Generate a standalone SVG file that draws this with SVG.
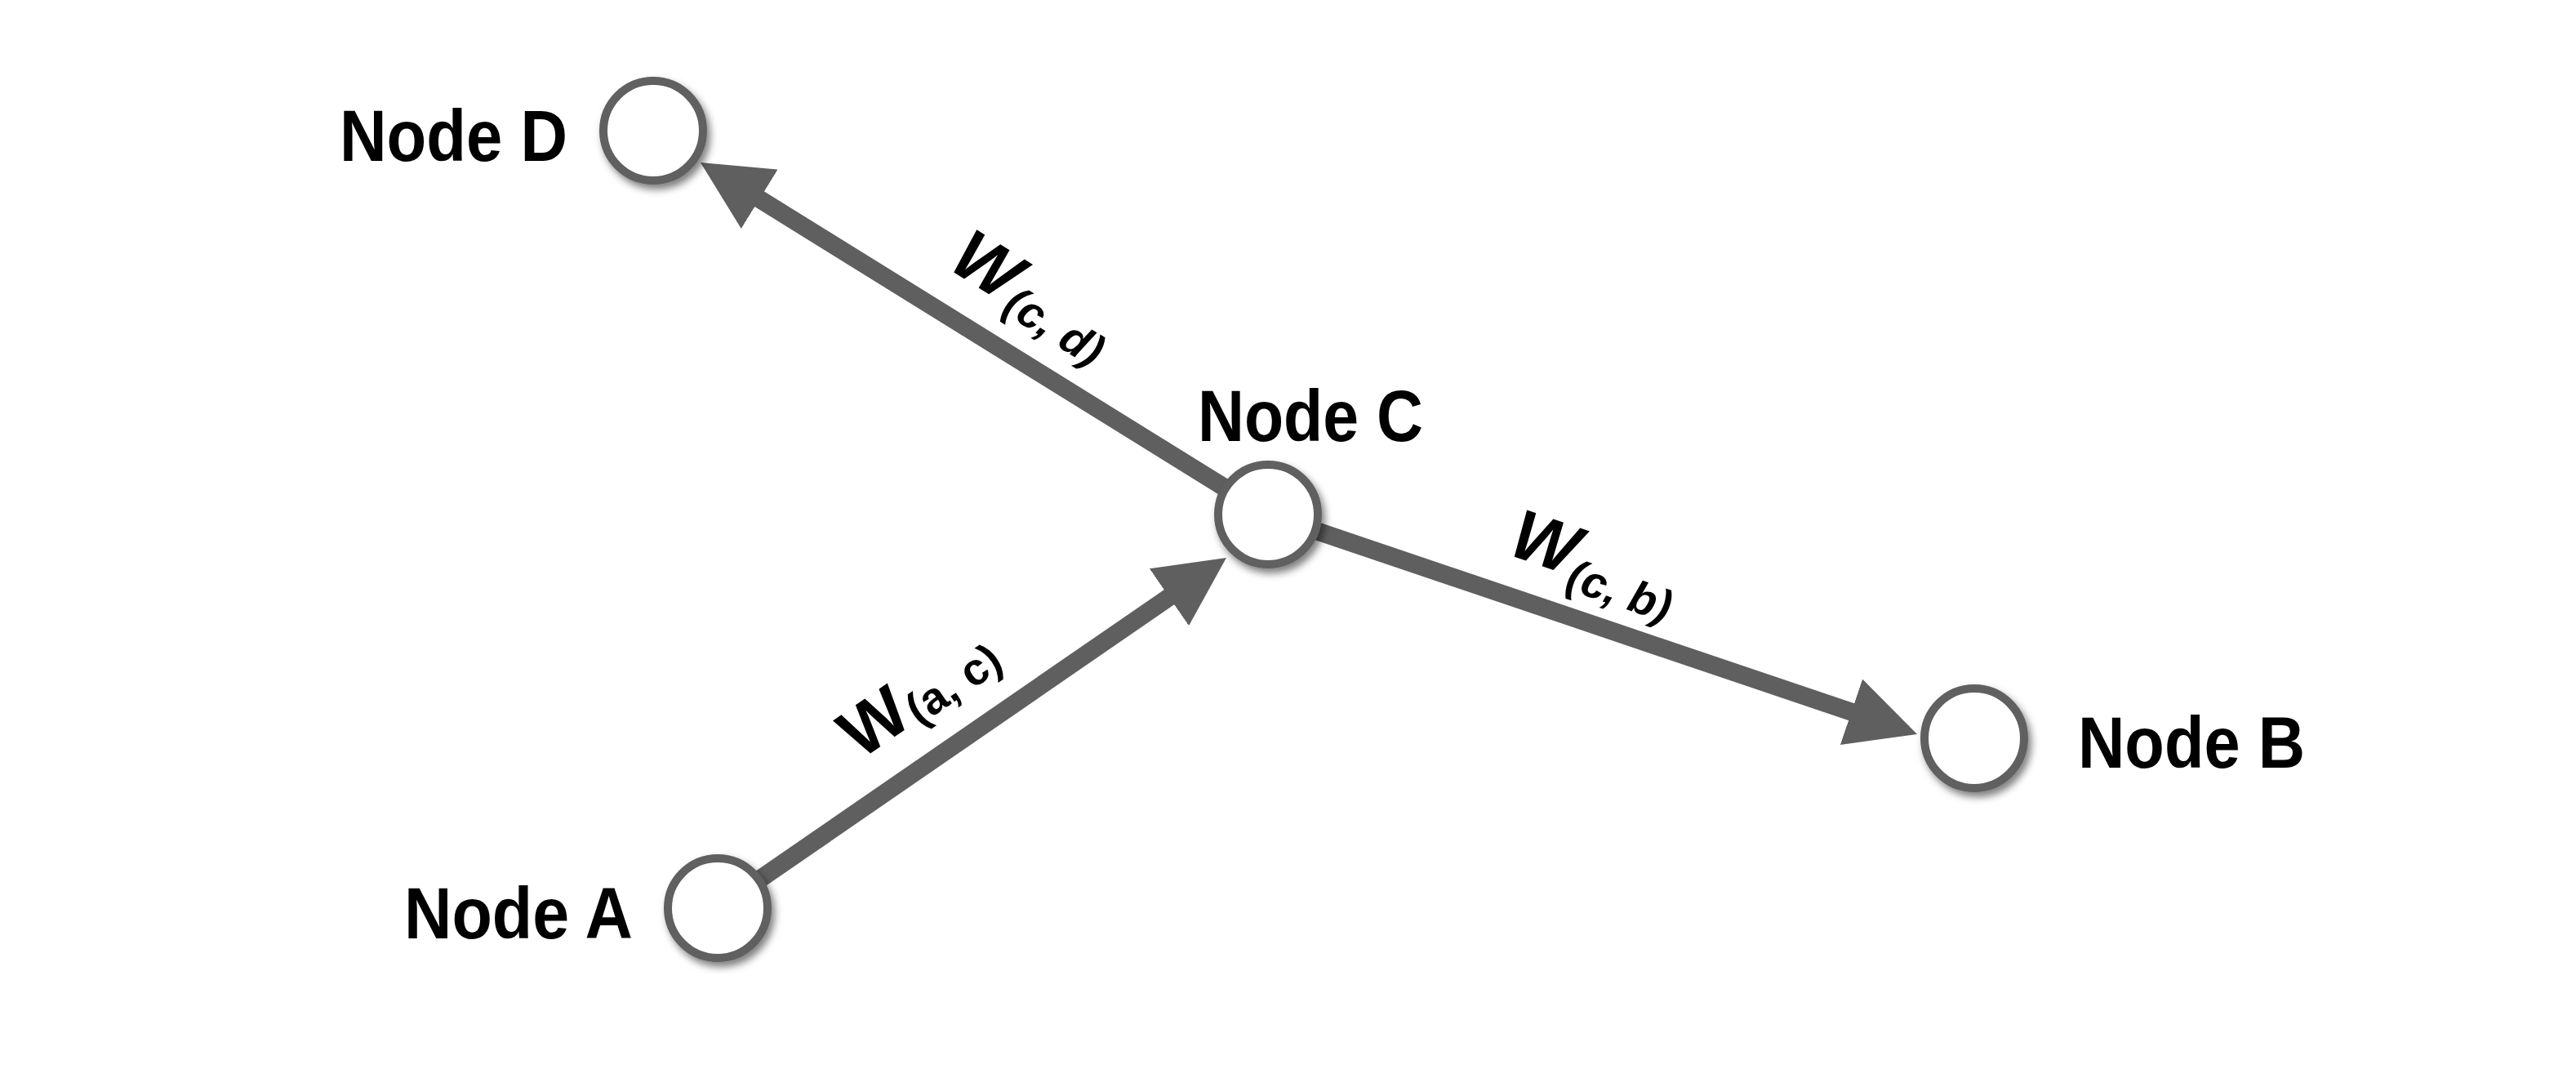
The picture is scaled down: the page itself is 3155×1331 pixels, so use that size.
<svg xmlns="http://www.w3.org/2000/svg" width="3155" height="1331" viewBox="0 0 3155 1331">
<style>
.edge{fill:none;stroke:#5f5f5f;stroke-width:22;stroke-linecap:butt;marker-end:url(#arrow)}
.ring{fill:#ffffff;stroke:#606060;stroke-width:10;filter:url(#shadow)}
.name{font-family:"Liberation Sans",Arial,sans-serif;font-weight:700;font-size:89px;fill:#000000}
.lbl{font-family:"Liberation Sans",Arial,sans-serif;font-weight:700;fill:#000000}
.big{font-size:86px}
.sub{font-size:55px}
.it{font-style:italic}
</style>
<defs>
<marker id="arrow" markerUnits="userSpaceOnUse" markerWidth="85" markerHeight="85" viewBox="0 0 85 85" refX="40" refY="42.5" orient="auto">
<path d="M0,0 L85,42.5 L0,85 Z" fill="#5f5f5f"/>
</marker>
<filter id="shadow" x="-30%" y="-30%" width="170%" height="170%">
<feDropShadow dx="4" dy="6" stdDeviation="5" flood-color="#000000" flood-opacity="0.5"/>
</filter>
</defs>
<rect width="3155" height="1331" fill="#ffffff"/>
<g id="connectors">
<line class="edge" x1="879" y1="1112" x2="1464.9" y2="708.5"/>
<line class="edge" x1="1553" y1="630" x2="896.2" y2="222.7"/>
<line class="edge" x1="1553" y1="630" x2="2305.4" y2="884.6"/>
<text class="lbl" transform="translate(1069,883) rotate(-34.5)"><tspan class="big" x="-40" y="31">W</tspan><tspan class="sub" x="43" y="37">(a, c)</tspan></text>
<text class="lbl it" transform="translate(1210,323) rotate(31.8)"><tspan class="big" x="-40" y="31">W</tspan><tspan class="sub" x="44" y="41">(c, d)</tspan></text>
<text class="lbl it" transform="translate(1893,662) rotate(18.7)"><tspan class="big" x="-40" y="31">W</tspan><tspan class="sub" x="40" y="48">(c, b)</tspan></text>
</g>
<g id="node-a">
<circle class="ring" cx="879" cy="1112" r="61"/>
<text class="name" x="495" y="1149" textLength="280" lengthAdjust="spacingAndGlyphs">Node A</text>
</g>
<g id="node-b">
<circle class="ring" cx="2418" cy="904" r="61"/>
<text class="name" x="2545" y="940" textLength="278" lengthAdjust="spacingAndGlyphs">Node B</text>
</g>
<g id="node-c">
<circle class="ring" cx="1553" cy="630" r="61"/>
<text class="name" x="1467" y="540" textLength="276" lengthAdjust="spacingAndGlyphs">Node C</text>
</g>
<g id="node-d">
<circle class="ring" cx="800" cy="160" r="61"/>
<text class="name" x="416" y="197" textLength="279" lengthAdjust="spacingAndGlyphs">Node D</text>
</g>
</svg>
